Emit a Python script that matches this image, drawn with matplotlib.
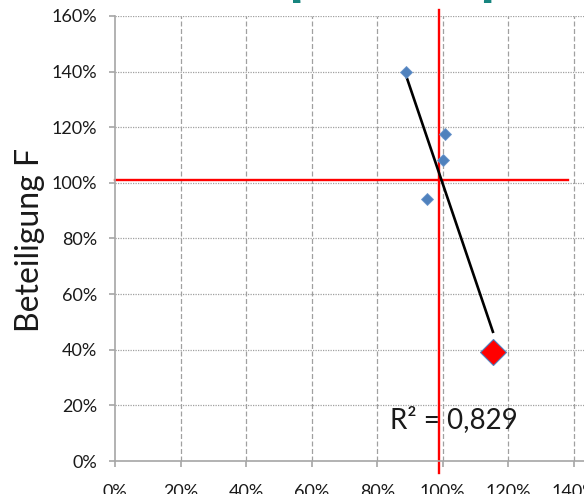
import matplotlib
matplotlib.use("Agg")
import matplotlib.pyplot as plt
import numpy as np

# values (percent)
teil_x = [88.7, 100.7, 100.0, 95.1]
teil_y = [140.0, 117.5, 108.2, 94.2]
mark_x = [115.3]
mark_y = [39.1]
ref_x = 98.9    # red vertical reference line
ref_y = 101.0   # red horizontal reference line
ticks = [0, 20, 40, 60, 80, 100, 120, 140, 160]
r2_label = "R² = 0,829"
y_label = "Beteiligung F"

plt.rcParams['font.family'] = ['Lato', 'DejaVu Sans']

fig = plt.figure(figsize=(5.84, 4.94), dpi=100)
ax = fig.add_axes([115 / 584, 33 / 494, 524.4 / 584, 445 / 494])
ax.set_xlim(0, 160)
ax.set_ylim(0, 160)

# grid: dashed verticals, dotted horizontals
for t in ticks[1:]:
    ax.axvline(t, color='#a0a0a0', lw=0.9, ls=(0, (4, 2)), zorder=0)
    ax.axhline(t, color='#a0a0a0', lw=0.9, ls=(0, (1, 1)), zorder=0)

for s in ['top', 'right']:
    ax.spines[s].set_visible(False)
for s in ['left', 'bottom']:
    ax.spines[s].set_color('#a6a6a6')
    ax.spines[s].set_linewidth(1.2)

ax.set_xticks(ticks)
ax.set_yticks(ticks)
ax.set_xticklabels([f"{t}%" for t in ticks])
ax.set_yticklabels([f"{t}%" for t in ticks])
ax.tick_params(axis='both', colors='#a6a6a6', labelcolor='#1a1a1a',
               length=4, width=1.2, labelsize=13)
ax.tick_params(axis='y', pad=9)
ax.tick_params(axis='x', pad=12.5)

# reference lines
ax.plot([0, 138.1], [ref_y, ref_y], color='red', lw=1.7, clip_on=False, zorder=2)
ax.plot([ref_x, ref_x], [-4.3, 162.2], color='red', lw=1.7, clip_on=False, zorder=2)

# linear trend over all points
all_x = np.array(teil_x + mark_x)
all_y = np.array(teil_y + mark_y)
k, d = np.polyfit(all_x, all_y, 1)
xs = np.array([all_x.min(), all_x.max()])
ax.plot(xs, k * xs + d, color='black', lw=1.9, zorder=3)

ax.plot(teil_x, teil_y, ls='none', marker='D', ms=6.4, color='#4f81bd',
        mec='#6a96cc', mew=0.6, zorder=4)
ax.plot(mark_x, mark_y, ls='none', marker='D', ms=13.5, color='red',
        mec='#4f81bd', mew=0.8, zorder=5)

ax.text(84, 12, r2_label, fontsize=20, va='baseline', ha='left', color='#1a1a1a', zorder=6)

fig.text(30 / 584, 1 - 240 / 494, y_label, rotation=90, fontsize=23,
         ha='center', va='center', color='#1a1a1a')

# fragments of the cut-off title at the top edge
fig.text(296 / 584, 1 - 3 / 494, "[", fontsize=26, fontweight='bold',
         color='#17857f', ha='center', va='bottom')
fig.text(488 / 584, 1 - 3 / 494, "]", fontsize=26, fontweight='bold',
         color='#17857f', ha='center', va='bottom')

fig.savefig("out.png", dpi=100)
